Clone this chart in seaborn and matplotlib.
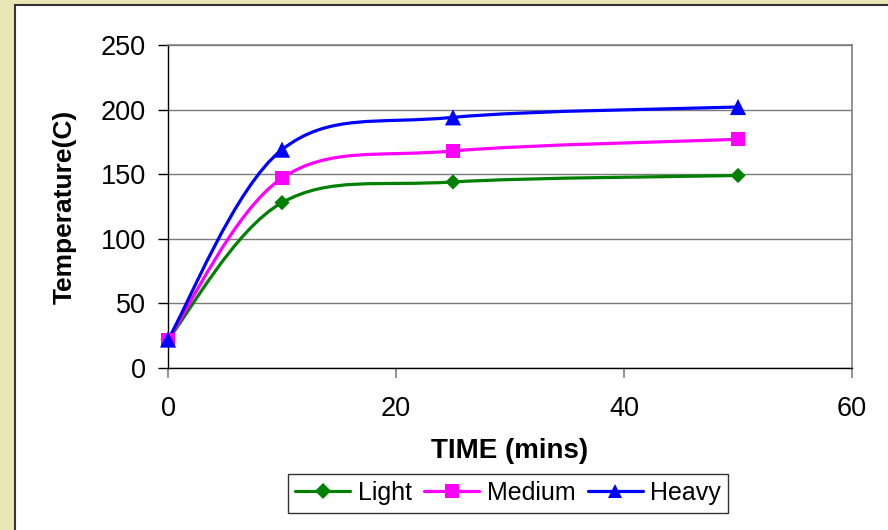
import numpy as np
import pandas as pd
import matplotlib
matplotlib.use("Agg")
import matplotlib.pyplot as plt
import seaborn as sns
from matplotlib.path import Path
from matplotlib.patches import PathPatch, Rectangle
from matplotlib.lines import Line2D

# ---- data ----
time_mins = [0, 10, 25, 50]
light = [22, 128, 144, 149]
medium = [22, 147, 168, 177]
heavy = [22, 169, 194, 202]
series_names = ["Light", "Medium", "Heavy"]
x_ticks = [0, 20, 40, 60]
y_ticks = [0, 50, 100, 150, 200, 250]

colors = {"Light": "#008000", "Medium": "#FF00FF", "Heavy": "#0000FF"}
markers = {"Light": "D", "Medium": "s", "Heavy": "^"}
sizes = {"Light": 60, "Medium": 100, "Heavy": 135}

df = pd.DataFrame({
    "time": time_mins * 3,
    "temp": light + medium + heavy,
    "series": [s for s in series_names for _ in time_mins],
})

sns.set_theme(style="white")
plt.rcParams["font.family"] = ["Liberation Sans", "DejaVu Sans"]
plt.rcParams["text.color"] = "black"
plt.rcParams["axes.labelcolor"] = "black"
plt.rcParams["xtick.color"] = "black"
plt.rcParams["ytick.color"] = "black"

fig = plt.figure(figsize=(8.88, 5.30), dpi=100)
fig.patch.set_facecolor("#EAE5B4")
# white chart panel
fig.patches.append(Rectangle((15 / 888, -0.05), 1.1, 1 - 5 / 530 + 0.05,
                             transform=fig.transFigure, facecolor="white",
                             edgecolor="#333333", lw=1.5, zorder=-5))

ax = fig.add_axes([168 / 888, 1 - 368 / 530, (852 - 168) / 888, (368 - 45) / 530])
ax.set_facecolor("white")


def smooth_path(xs, ys):
    pts = np.column_stack([xs, ys]).astype(float)
    n = len(pts)
    verts = [pts[0]]
    codes = [Path.MOVETO]
    for i in range(n - 1):
        p0 = pts[max(i - 1, 0)]
        p1 = pts[i]
        p2 = pts[i + 1]
        p3 = pts[min(i + 2, n - 1)]
        c1 = p1 + (p2 - p0) / 6.0
        c2 = p2 - (p3 - p1) / 6.0
        verts += [c1, c2, p2]
        codes += [Path.CURVE4] * 3
    return Path(verts, codes)


for name in series_names:
    sub = df[df["series"] == name]
    patch = PathPatch(smooth_path(sub["time"].values, sub["temp"].values),
                      facecolor="none", edgecolor=colors[name], lw=2.3,
                      transform=ax.transData, zorder=3, capstyle="round",
                      joinstyle="round")
    ax.add_patch(patch)
    sns.scatterplot(data=sub, x="time", y="temp", color=colors[name],
                    marker=markers[name], s=sizes[name], edgecolor="none",
                    linewidth=0, ax=ax, legend=False, zorder=4, clip_on=False)

ax.set_xlim(0, 60)
ax.set_ylim(0, 250)
ax.set_xticks(x_ticks)
ax.set_yticks(y_ticks)
ax.yaxis.grid(True, color="#7a7a7a", lw=1.0)
ax.xaxis.grid(False)
ax.set_axisbelow(True)

for side in ["top", "right"]:
    ax.spines[side].set_color("#808080")
    ax.spines[side].set_linewidth(1.2)
for side in ["left", "bottom"]:
    ax.spines[side].set_color("#000000")
    ax.spines[side].set_linewidth(1.0)

ax.tick_params(axis="y", direction="out", length=7, width=1, color="black",
               labelsize=19.5, pad=9, left=True)
ax.tick_params(axis="x", direction="out", length=7, width=1.2, color="#808080",
               labelsize=19.5, pad=13, bottom=True)

ax.set_xlabel("TIME (mins)", fontsize=20, fontweight="bold", labelpad=12)
ax.set_ylabel("Temperature(C)", fontsize=19, fontweight="bold", labelpad=17)

handles = [Line2D([0], [0], color=colors[n], lw=2.3, marker=markers[n],
                  markersize=10 if n != "Light" else 8, markeredgewidth=0)
           for n in series_names]
leg = fig.legend(handles, series_names, loc="center",
                 bbox_to_anchor=(508 / 888, 1 - 493 / 530), ncol=3,
                 fontsize=18, frameon=True, fancybox=False, framealpha=1,
                 edgecolor="#333333", handlelength=2.2, handletextpad=0.3,
                 columnspacing=0.5, borderpad=0.3, borderaxespad=0)
leg.get_frame().set_linewidth(1.0)

fig.savefig("out.png", dpi=100)
